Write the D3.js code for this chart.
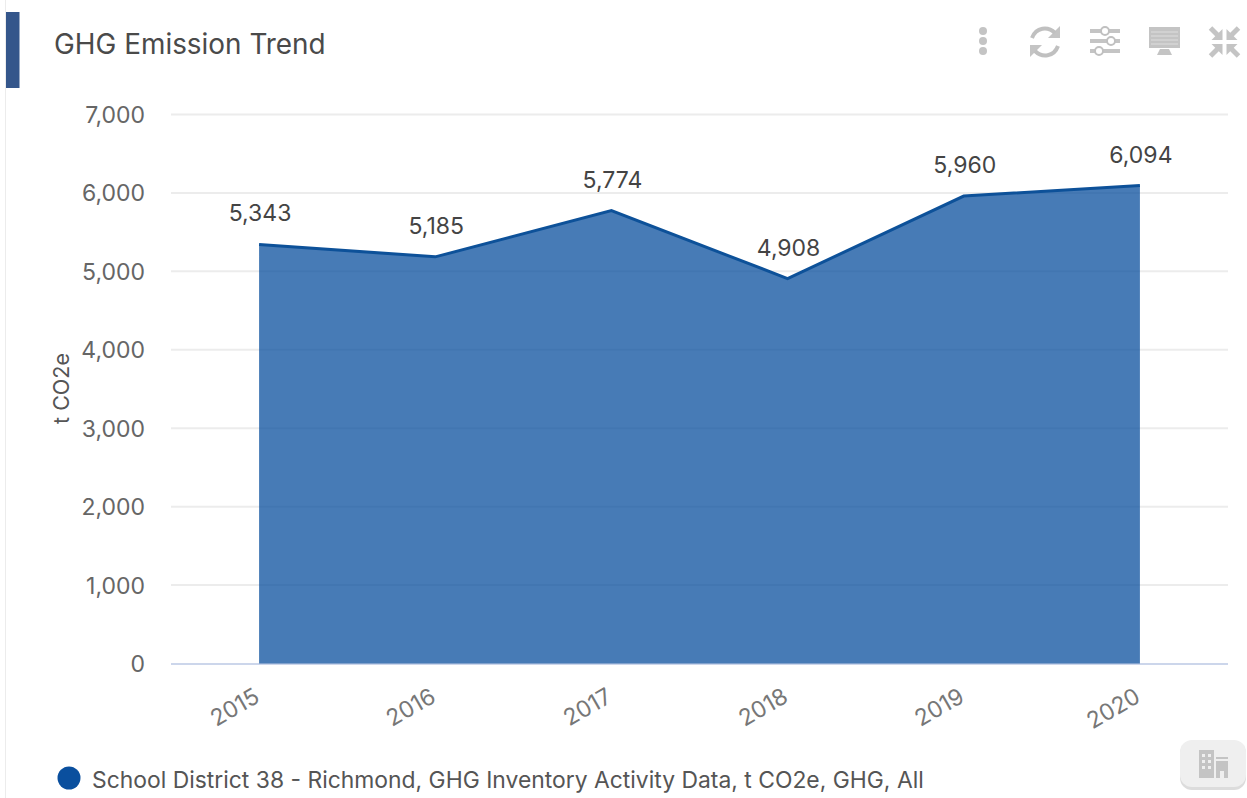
<!DOCTYPE html>
<html><head><meta charset="utf-8">
<script src="https://cdnjs.cloudflare.com/ajax/libs/d3/7.8.5/d3.min.js"></script>
<style>html,body{margin:0;padding:0;background:#fff;overflow:hidden}svg{display:block;font-family:Inter,"Noto Sans",sans-serif}</style>
</head><body><svg id="c" width="1247" height="798"></svg>
<script>
const years=["2015","2016","2017","2018","2019","2020"];
const emissions=[5343,5185,5774,4908,5960,6094];
const yTicks=[0,1000,2000,3000,4000,5000,6000,7000];
const title="GHG Emission Trend";
const yTitle="t CO2e";
const legendLabel="School District 38 - Richmond, GHG Inventory Activity Data, t CO2e, GHG, All";

const svg=d3.select("#c");
const x=d3.scaleBand().domain(years).range([171,1228]);
const cx=d=>x(d)+x.bandwidth()/2;
const y=d3.scaleLinear().domain([0,7000]).range([663.5,114.5]);
const fmt=d3.format(",");

// card frame
svg.append("line").attr("x1",5.5).attr("x2",5.5).attr("y1",0).attr("y2",798).attr("stroke","#ececec");
svg.append("rect").attr("x",6).attr("y",12).attr("width",13.5).attr("height",76).attr("fill","#34568b");
svg.append("text").attr("x",54).attr("y",54).attr("font-size",27.9).attr("fill","#4a4a4a").text(title);

// grid
svg.append("g").selectAll("line").data(yTicks.filter(d=>d>0)).join("line")
 .attr("x1",171).attr("x2",1228).attr("y1",d=>y(d)).attr("y2",d=>y(d))
 .attr("stroke","#ececec").attr("stroke-width",2);
svg.append("line").attr("x1",171).attr("x2",1228).attr("y1",y(0)+0.5).attr("y2",y(0)+0.5).attr("stroke","#ccd6eb").attr("stroke-width",2);

// y labels
svg.append("g").selectAll("text").data(yTicks).join("text")
 .attr("x",145).attr("y",d=>y(d)+8.5).attr("text-anchor","end").attr("font-size",23).attr("fill","#666").text(fmt);
svg.append("text").attr("transform","translate(69,388.5) rotate(-90)").attr("text-anchor","middle")
 .attr("font-size",21.5).attr("fill","#555").text(yTitle);

// area and line
const pts=years.map((d,i)=>({k:d,v:emissions[i]}));
svg.append("path").datum(pts).attr("fill","#0a4f9e").attr("fill-opacity",.75)
 .attr("d",d3.area().x(d=>cx(d.k)).y0(y(0)).y1(d=>y(d.v)));
svg.append("path").datum(pts).attr("fill","none").attr("stroke","#0d5199").attr("stroke-width",3)
 .attr("d",d3.line().x(d=>cx(d.k)).y(d=>y(d.v)));

// data labels
svg.append("g").selectAll("text").data(pts).join("text")
 .attr("x",d=>cx(d.k)+1).attr("y",d=>y(d.v)-23).attr("text-anchor","middle")
 .attr("font-size",23).attr("fill","#444").text(d=>fmt(d.v));

// x labels
svg.append("g").selectAll("text").data(years).join("text")
 .attr("transform",d=>`translate(${cx(d)+2},${701}) rotate(-30)`).attr("text-anchor","end")
 .attr("font-size",23).attr("fill","#777").text(d=>d);

// legend
svg.append("circle").attr("cx",69).attr("cy",778).attr("r",11.5).attr("fill","#0a4f9e");
svg.append("text").attr("x",92).attr("y",787.5).attr("font-size",22.88).attr("fill","#555").text(legendLabel);

// toolbar icons
const ic=svg.append("g").attr("fill","#c4c4c4").attr("stroke","none");
[31,41,51].forEach(cy=>ic.append("circle").attr("cx",983).attr("cy",cy).attr("r",4));
const r=svg.append("g").attr("fill","none").attr("stroke","#c0c0c0").attr("stroke-width",4);
r.append("path").attr("d","M1032,38 C1036,27 1048,26 1055,33");
r.append("path").attr("d","M1058,46 C1054,57 1042,58 1035,51");
ic.append("path").attr("d","M1060,26 V38 H1048Z");
ic.append("path").attr("d","M1030,45 H1042 L1030,57Z");
[[31,1105],[41,1111],[51,1099]].forEach(([cy,k])=>{
 ic.append("rect").attr("x",1090).attr("y",cy-2).attr("width",30).attr("height",4);
 svg.append("circle").attr("cx",k).attr("cy",cy).attr("r",4).attr("fill","#fff").attr("stroke","#c0c0c0").attr("stroke-width",2);
});
ic.append("rect").attr("x",1149).attr("y",27).attr("width",31).attr("height",21);
[32,36,40,44].forEach(v=>svg.append("line").attr("x1",1151).attr("x2",1178).attr("y1",v).attr("y2",v).attr("stroke","#dedede").attr("stroke-width",1));
ic.append("path").attr("d","M1160,49 H1169 L1172,55 H1157Z");
// compress icon: four arrows pointing to the centre
[[1,1],[-1,1],[1,-1],[-1,-1]].forEach(([sx,sy])=>{
 const g=svg.append("g").attr("transform",`translate(1224.5,42) scale(${sx},${sy})`);
 g.append("path").attr("d","M-2,-2 V-13 L-13,-2Z").attr("fill","#c4c4c4");
 g.append("line").attr("x1",-14).attr("y1",-14).attr("x2",-6).attr("y2",-6).attr("stroke","#c4c4c4").attr("stroke-width",5);
});

// corner button
svg.append("rect").attr("x",1180).attr("y",741).attr("width",66).attr("height",49).attr("rx",12).attr("fill","#dcdcdc");
svg.append("rect").attr("x",1180).attr("y",740).attr("width",66).attr("height",47).attr("rx",12).attr("fill","#efefef");
const b=svg.append("g").attr("fill","#c4c4c4");
b.append("rect").attr("x",1199).attr("y",750).attr("width",15).attr("height",28);
b.append("rect").attr("x",1216).attr("y",757).attr("width",12).attr("height",2);
b.append("path").attr("d","M1216,761 H1228 V778 H1224 V771 H1220 V778 H1216Z");
[[1202,754],[1208,754],[1202,760],[1208,760],[1202,766],[1208,766]].forEach(([a,c])=>b.append("rect").attr("x",a).attr("y",c).attr("width",3).attr("height",3).attr("fill","#efefef"));
</script></body></html>
